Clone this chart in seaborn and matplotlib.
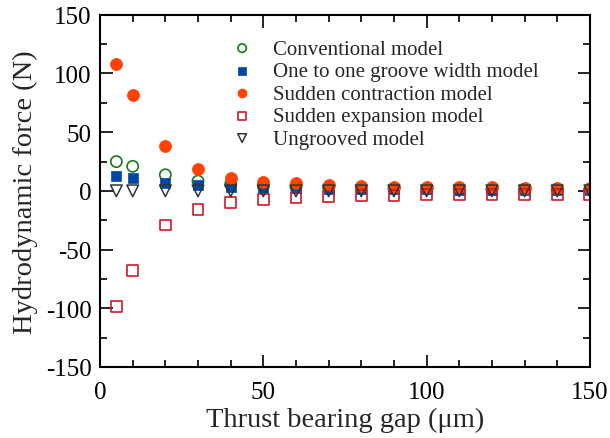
import matplotlib
matplotlib.use("Agg")
import matplotlib.pyplot as plt
import seaborn as sns
import pandas as pd
from matplotlib.ticker import MultipleLocator

gap = [5, 10, 20, 30, 40, 50, 60, 70, 80, 90, 100, 110, 120, 130, 140, 150]
conventional = [24.9, 20.9, 13.7, 8.3, 5.7, 4.2, 3.4, 2.8, 2.4, 2.1, 1.9, 1.7, 1.6, 1.5, 1.4, 1.3]
one_to_one = [12.6, 10.9, 6.6, 4.9, 3.5, 2.6, 2.1, 1.8, 1.5, 1.3, 1.2, 1.1, 1.0, 0.9, 0.9, 0.8]
contraction = [107.7, 81.4, 38.0, 18.6, 10.6, 7.8, 6.3, 5.2, 4.3, 3.7, 3.4, 3.2, 3.0, 2.8, 2.6, 2.5]
expansion = [-98.5, -67.7, -29.1, -15.7, -10.0, -7.1, -5.7, -4.9, -4.0, -3.7, -3.4, -3.2, -3.1, -3.0, -3.0, -3.0]
ungrooved = [0.0] * 16

labels = ["Conventional model", "One to one groove width model",
          "Sudden contraction model", "Sudden expansion model", "Ungrooved model"]

sns.set_theme(style="ticks")
plt.rcParams["font.family"] = ["Liberation Serif", "DejaVu Serif"]
plt.rcParams["axes.unicode_minus"] = False

fig = plt.figure(figsize=(6.1, 4.39), dpi=100)
ax = fig.add_axes([0.164, 0.162, 0.803, 0.802])

df = pd.DataFrame({"gap": gap})
styles = [
    (conventional, dict(marker="o", facecolor="none", edgecolor="#1a7a1a", s=65, linewidth=1.2)),
    (one_to_one, dict(marker="s", color="#0047a8", edgecolor="#0047a8", s=60, linewidth=0.5)),
    (contraction, dict(marker="o", color="#ff4200", edgecolor="#ff4200", s=75, linewidth=0.5)),
    (expansion, dict(marker="s", facecolor="none", edgecolor="#cc1a2a", s=60, linewidth=1.2)),
    (ungrooved, dict(marker="v", facecolor="none", edgecolor="#333333", s=70, linewidth=1.1)),
]
for (vals, kw), lab in zip(styles, labels):
    df["v"] = vals
    sns.scatterplot(data=df, x="gap", y="v", ax=ax, label=lab, **kw)

ax.set_xlim(0, 150)
ax.set_ylim(-150, 150)
ax.xaxis.set_major_locator(MultipleLocator(50))
ax.xaxis.set_minor_locator(MultipleLocator(10))
ax.yaxis.set_major_locator(MultipleLocator(50))
ax.yaxis.set_minor_locator(MultipleLocator(25))
ax.tick_params(which="both", direction="in", top=True, right=True, width=1.2, colors="black",
               labelsize=18)
ax.tick_params(axis="y", which="major", pad=6)
ax.tick_params(axis="x", which="major", pad=10)
ax.tick_params(which="major", length=9)
ax.tick_params(which="minor", length=5)
for sp in ax.spines.values():
    sp.set_linewidth(1.5)
    sp.set_color("black")

ax.set_xlabel("Thrust bearing gap (\u03bcm)", fontsize=20.5, labelpad=3)
ax.set_ylabel("Hydrodynamic force (N)", fontsize=20.5, labelpad=6)

leg = ax.legend(loc="upper left", bbox_to_anchor=(0.239, 0.955), frameon=False, fontsize=15,
                markerscale=0.75, handletextpad=0.7, labelspacing=0.14, borderaxespad=0,
                handlelength=1.6)

fig.savefig("out.png", dpi=100)
